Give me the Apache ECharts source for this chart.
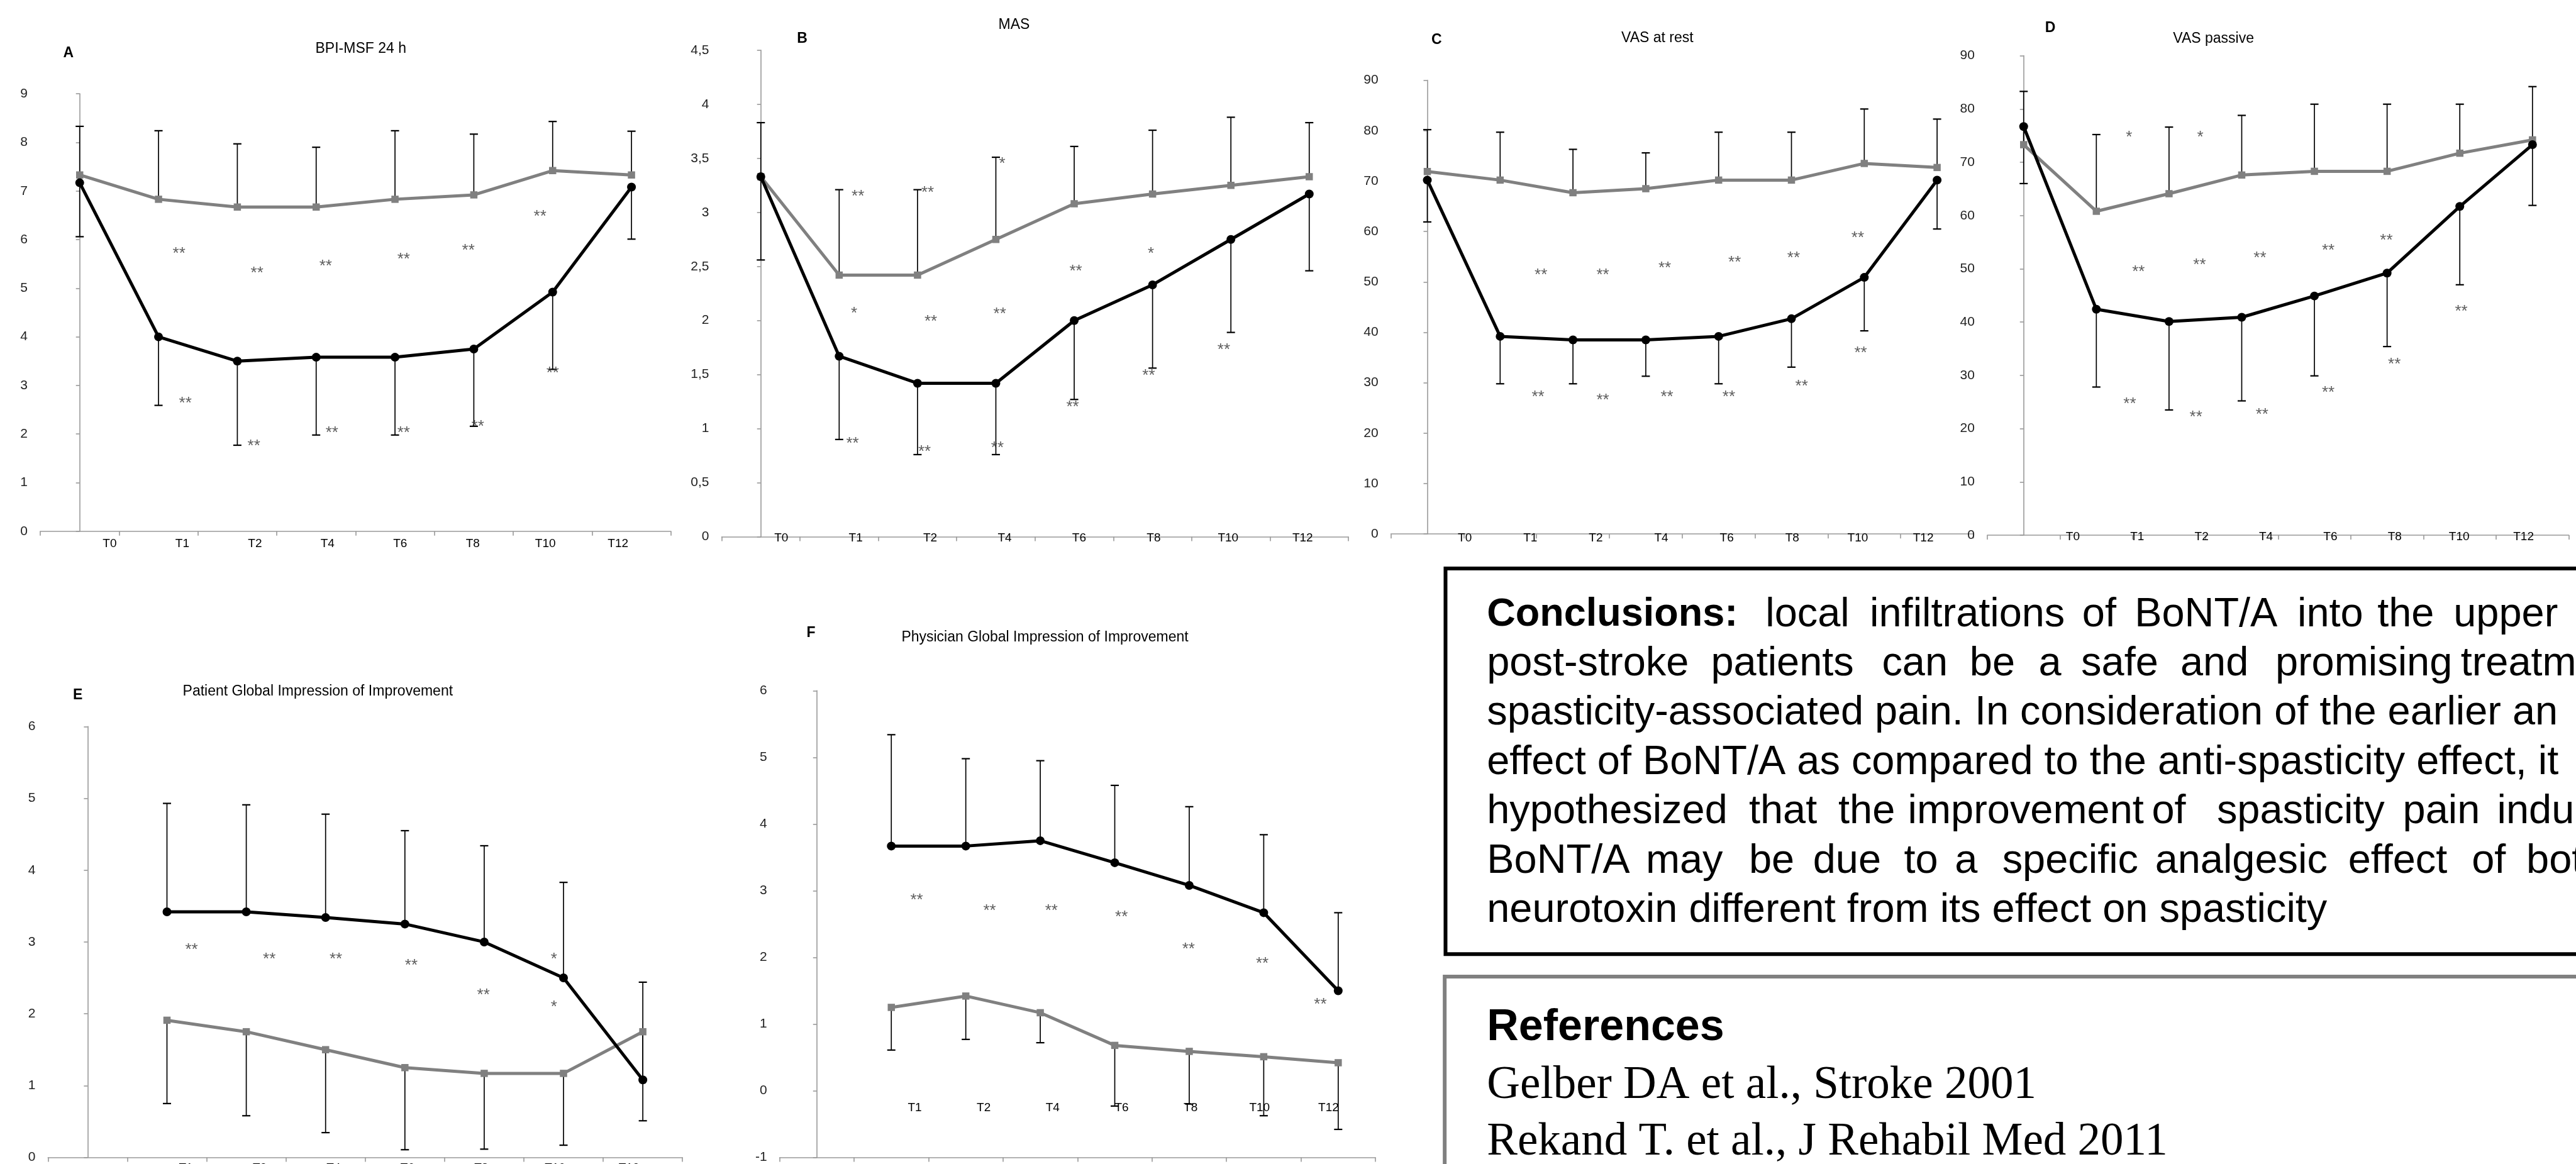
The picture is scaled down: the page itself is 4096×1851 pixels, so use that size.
<!DOCTYPE html>
<html><head><meta charset="utf-8">
<script src="https://cdn.jsdelivr.net/npm/echarts@6/dist/echarts.min.js"></script>
<style>html,body{margin:0;padding:0;background:#fff;overflow:hidden}#c{width:4096px;height:1851px}</style>
</head><body><div id="c"></div>
<script>
// ---------------- DATA ----------------
const catsFull = ['T0','T1','T2','T4','T6','T8','T10','T12'];
const catsNoT0 = ['','T1','T2','T4','T6','T8','T10','T12'];
const tickLabels8 = ['T0','T1','T2','T4','T6','T8','T10','T12'];
const tickLabels7 = ['T1','T2','T4','T6','T8','T10','T12'];

// A: BPI-MSF 24 h
const A_gray    = [7.33, 6.83, 6.67, 6.67, 6.83, 6.92, 7.42, 7.33];
const A_grayHi  = [8.33, 8.24, 7.97, 7.90, 8.24, 8.17, 8.43, 8.23];
const A_black   = [7.17, 4.00, 3.50, 3.58, 3.58, 3.75, 4.92, 7.08];
const A_blackLo = [6.06, 2.59, 1.77, 1.98, 1.98, 2.16, 3.33, 6.01];
const A_stars = [[1.26,5.78,'**'],[2.25,5.38,'**'],[3.12,5.52,'**'],[4.11,5.66,'**'],[4.93,5.85,'**'],[5.84,6.54,'**'],
                 [1.34,2.70,'**'],[2.21,1.83,'**'],[3.20,2.10,'**'],[4.11,2.10,'**'],[5.05,2.22,'**'],[6.00,3.32,'**']];
// B: MAS
const B_gray    = [3.33, 2.42, 2.42, 2.75, 3.08, 3.17, 3.25, 3.33];
const B_grayHi  = [3.83, 3.21, 3.21, 3.51, 3.61, 3.76, 3.88, 3.83];
const B_black   = [3.33, 1.67, 1.42, 1.42, 2.00, 2.33, 2.75, 3.17];
const B_blackLo = [2.56, 0.90, 0.76, 0.76, 1.27, 1.56, 1.89, 2.46];
const B_stars = [[1.24,3.18,'**'],[2.13,3.215,'**'],[3.08,3.48,'*'],[4.02,2.49,'**'],[4.98,2.65,'*'],
                 [1.19,2.10,'*'],[2.17,2.02,'**'],[3.05,2.09,'**'],[5.91,1.76,'**'],
                 [1.17,0.895,'**'],[2.09,0.82,'**'],[3.02,0.856,'**'],[3.98,1.23,'**'],[4.95,1.52,'**']];
// C: VAS at rest
const C_gray    = [71.9, 70.2, 67.7, 68.5, 70.2, 70.2, 73.5, 72.7];
const C_grayHi  = [80.2, 79.7, 76.3, 75.6, 79.7, 79.7, 84.3, 82.3];
const C_black   = [70.2, 39.2, 38.5, 38.5, 39.2, 42.7, 50.9, 70.2];
const C_blackLo = [61.9, 29.8, 29.8, 31.3, 29.8, 33.1, 40.3, 60.5];
const C_stars = [[1.56,52.0,'**'],[2.41,52.0,'**'],[3.26,53.4,'**'],[4.22,54.6,'**'],[5.03,55.4,'**'],[5.91,59.4,'**'],
                 [1.52,27.9,'**'],[2.41,27.2,'**'],[3.29,27.9,'**'],[4.14,27.9,'**'],[5.14,30.0,'**'],[5.95,36.6,'**']];
// D: VAS passive
const D_gray    = [73.3, 60.8, 64.1, 67.6, 68.3, 68.3, 71.7, 74.2];
const D_grayHi  = [83.3, 75.2, 76.6, 78.8, 80.9, 80.9, 80.9, 84.2];
const D_black   = [76.7, 42.4, 40.1, 40.9, 44.9, 49.2, 61.7, 73.3];
const D_blackLo = [66.0, 27.8, 23.5, 25.2, 29.9, 35.4, 47.0, 61.9];
const D_stars = [[1.45,75.3,'*'],[2.43,75.3,'*'],
                 [1.58,50.1,'**'],[2.42,51.4,'**'],[3.25,52.7,'**'],[4.19,54.1,'**'],[4.99,56.0,'**'],[6.02,42.6,'**'],
                 [1.46,25.3,'**'],[2.37,22.8,'**'],[3.28,23.3,'**'],[4.19,27.4,'**'],[5.10,32.7,'**']];
// E: Patient Global Impression of Improvement
const E_black   = [null, 3.42, 3.42, 3.34, 3.25, 3.00, 2.50, 1.08];
const E_blackHi = [null, 4.93, 4.91, 4.78, 4.55, 4.34, 3.83, 2.44];
const E_gray    = [null, 1.91, 1.75, 1.50, 1.25, 1.17, 1.17, 1.75];
const E_grayLo  = [null, 0.75, 0.58, 0.345, 0.107, 0.115, 0.17, 0.51];
const E_stars = [[1.31,2.94,'**'],[2.29,2.81,'**'],[3.13,2.81,'**'],[4.08,2.72,'**'],[4.99,2.31,'**'],[5.88,2.81,'*'],[5.88,2.14,'*']];
// F: Physician Global Impression of Improvement
const F_black   = [null, 3.67, 3.67, 3.75, 3.42, 3.08, 2.67, 1.50];
const F_blackHi = [null, 5.34, 4.98, 4.95, 4.58, 4.26, 3.84, 2.67];
const F_gray    = [null, 1.25, 1.42, 1.17, 0.68, 0.59, 0.51, 0.42];
const F_grayLo  = [null, 0.61, 0.77, 0.72, -0.23, -0.20, -0.375, -0.58];
const F_stars = [[1.34,2.91,'**'],[2.32,2.75,'**'],[3.15,2.75,'**'],[4.09,2.66,'**'],[4.99,2.18,'**'],[5.98,1.96,'**'],[6.76,1.35,'**']];

// ---------------- LAYOUT (reference pixel coords, scaled by S) ----------------
const S = 4096 / 4669;
const FONT = "'Liberation Sans', Arial, Helvetica, sans-serif";
const SERIF = "'Liberation Serif', 'Times New Roman', serif";
const GRAY = '#808080', AX = '#999999';

const panels = [
  {title:'BPI-MSF 24 h', letter:'A', cats:catsFull, labels:tickLabels8, gray:A_gray, grayE:A_grayHi, black:A_black, blackE:A_blackLo, stars:A_stars,
   yMin:0, yMax:9, yInt:1, grid:[73,170,1216,963], lab:[133,986,1053], t:[654,89], l:[124,96]},
  {title:'MAS', letter:'B', cats:catsFull, labels:tickLabels8, gray:B_gray, grayE:B_grayHi, black:B_black, blackE:B_blackLo, stars:B_stars,
   yMin:0, yMax:4.5, yInt:0.5, comma:true, grid:[1308,91,2444,973], lab:[1348.5,975,1080], t:[1838,45], l:[1454,70]},
  {title:'VAS at rest', letter:'C', cats:catsFull, labels:tickLabels8, gray:C_gray, grayE:C_grayHi, black:C_black, blackE:C_blackLo, stars:C_stars,
   yMin:0, yMax:90, yInt:10, grid:[2521,145.5,3577,968], lab:[2595.6,976,949.7], t:[3004,69], l:[2604,72]},
  {title:'VAS passive', letter:'D', cats:catsFull, labels:tickLabels8, gray:D_gray, grayE:D_grayHi, black:D_black, blackE:D_blackLo, stars:D_stars,
   yMin:0, yMax:90, yInt:10, grid:[3602,101,4656,970], lab:[3698.6,973,933.7], t:[4012,70], l:[3716,51]},
  {title:'Patient Global Impression of Improvement', letter:'E', cats:catsNoT0, labels:tickLabels7, gray:E_gray, grayE:E_grayLo, black:E_black, blackE:E_blackHi, stars:E_stars,
   yMin:0, yMax:6, yInt:1, grid:[87,1317,1237,2100], lab:[270,2118,937], t:[576,1253], l:[141,1260]},
  {title:'Physician Global Impression of Improvement', letter:'F', cats:catsNoT0, labels:tickLabels7, gray:F_gray, grayE:F_grayLo, black:F_black, blackE:F_blackHi, stars:F_stars,
   yMin:-1, yMax:6, yInt:1, grid:[1413,1252,2493,2098], lab:[1595.5,2008,875], t:[1894,1156], l:[1470,1148]}
];

const conclusionLines = [
  {words:['Conclusions:','local','infiltrations','of','BoNT/A','into','the','upper'], xs:[2695,3200,3389,3774,3869,4164,4309,4447]},
  {words:['post-stroke','patients','can','be','a','safe','and','promising','treatm'], xs:[2695,3101,3411,3570,3695,3772,3952,4124,4460]},
  {words:['spasticity-associated pain. In consideration of the earlier an'], xs:[2695]},
  {words:['effect of BoNT/A as compared to the anti-spasticity effect, it'], xs:[2695]},
  {words:['hypothesized','that','the','improvement','of','spasticity','pain','indu'], xs:[2695,3170,3332,3458,3900,4018,4355,4526]},
  {words:['BoNT/A','may','be','due','to','a','specific','analgesic','effect','of','bot'], xs:[2695,2983,3170,3286,3451,3543,3629,3906,4256,4480,4579]},
  {words:['neurotoxin different from its effect on spasticity'], xs:[2695]}
];
const referenceLines = ['Gelber DA et al., Stroke 2001', 'Rekand T. et al., J Rehabil Med 2011'];

// ---------------- BUILD ----------------
function errRender(params, api) {
  const x = api.value(0), a = api.value(1), b = api.value(2);
  const p1 = api.coord([x, a]), p2 = api.coord([x, b]);
  return {type:'group', children:[
    {type:'line', shape:{x1:p1[0], y1:p1[1], x2:p2[0], y2:p2[1]}, style:{stroke:'#000', lineWidth:1.7}},
    {type:'line', shape:{x1:p2[0]-6.5, y1:p2[1], x2:p2[0]+6.5, y2:p2[1]}, style:{stroke:'#000', lineWidth:2.2}}
  ]};
}

const grids = [], xAxes = [], yAxes = [], series = [], graphics = [];

panels.forEach(p => {
  const g = p.grid;
  const gMain = grids.length;
  grids.push({left:g[0]*S, top:g[1]*S, width:(g[2]-g[0])*S, height:(g[3]-g[1])*S});
  const gLab = grids.length;
  grids.push({left:p.lab[0]*S, top:p.lab[1]*S - 1, width:p.lab[2]*S, height:1});

  const xCat = xAxes.length;
  xAxes.push({type:'category', gridIndex:gMain, position:'bottom', data:p.cats, boundaryGap:true,
    axisLine:{show:true, onZero:false, lineStyle:{color:AX, width:1.6}},
    axisTick:{show:true, length:7, lineStyle:{color:AX, width:1.6}},
    axisLabel:{show:false}, splitLine:{show:false}});
  const xVal = xAxes.length;
  xAxes.push({type:'value', gridIndex:gMain, min:-0.5, max:7.5, show:false});
  xAxes.push({type:'category', gridIndex:gLab, position:'bottom', data:p.labels, boundaryGap:true,
    axisLine:{show:false}, axisTick:{show:false}, splitLine:{show:false},
    axisLabel:{show:true, interval:0, margin:0, verticalAlign:'middle', fontSize:19, fontFamily:FONT, color:'#000'}});

  const yMain = yAxes.length;
  yAxes.push({type:'value', gridIndex:gMain, min:p.yMin, max:p.yMax, interval:p.yInt,
    axisLine:{show:true, lineStyle:{color:AX, width:1.6}},
    axisTick:{show:true, length:6, lineStyle:{color:AX, width:1.6}},
    axisLabel:{margin:20, fontSize:21, fontFamily:FONT, color:'#222',
      formatter: v => p.comma ? String(v).replace('.', ',') : String(v)},
    splitLine:{show:false}});
  yAxes.push({type:'value', gridIndex:gLab, show:false});

  const errData = (vals, ends) => vals.map((v,k) => v == null ? null : [k, v, ends[k]]).filter(Boolean);
  series.push({type:'custom', xAxisIndex:xCat, yAxisIndex:yMain, renderItem:errRender, encode:{x:0, y:[1,2]},
    data:errData(p.gray, p.grayE), z:2, silent:true});
  series.push({type:'custom', xAxisIndex:xCat, yAxisIndex:yMain, renderItem:errRender, encode:{x:0, y:[1,2]},
    data:errData(p.black, p.blackE), z:2, silent:true});
  series.push({type:'line', xAxisIndex:xCat, yAxisIndex:yMain, data:p.gray, symbol:'rect', symbolSize:11.5,
    showAllSymbol:true, itemStyle:{color:GRAY}, lineStyle:{color:GRAY, width:5}, z:3, silent:true});
  series.push({type:'line', xAxisIndex:xCat, yAxisIndex:yMain, data:p.black, symbol:'circle', symbolSize:14,
    showAllSymbol:true, itemStyle:{color:'#000'}, lineStyle:{color:'#000', width:5}, z:4, silent:true});
  series.push({type:'scatter', xAxisIndex:xVal, yAxisIndex:yMain, symbolSize:0.1, itemStyle:{color:'rgba(0,0,0,0)'},
    data:p.stars.map(s => ({value:[s[0], s[1]], name:s[2]})),
    label:{show:true, position:'inside', formatter:'{b}', fontSize:26, fontFamily:FONT, color:'#333', offset:[0,6]},
    z:5, silent:true});

  graphics.push({type:'text', x:p.t[0]*S, y:p.t[1]*S, style:{text:p.title, fontSize:23, fontFamily:FONT, fill:'#000', align:'center', verticalAlign:'middle'}});
  graphics.push({type:'text', x:p.l[0]*S, y:p.l[1]*S, style:{text:p.letter, fontSize:23, fontWeight:'bold', fontFamily:FONT, fill:'#000', align:'center', verticalAlign:'middle'}});
});

// Conclusions box
graphics.push({type:'rect', shape:{x:2620*S, y:1030.5*S, width:2200, height:(1729.5-1030.5)*S}, style:{fill:null, stroke:'#000', lineWidth:6}});
const FS = 74*S, LINE0 = 1140.6, LSTEP = 89.3;
conclusionLines.forEach((ln, i) => {
  const base = (LINE0 + i*LSTEP)*S;
  ln.words.forEach((w, k) => {
    const bold = (i === 0 && k === 0);
    const fs = bold ? 63 : FS;
    graphics.push({type:'text', x:ln.xs[k]*S, y:base - 0.35*FS,
      style:{text:w, fontSize:fs, fontWeight:bold?'bold':'normal', fontFamily:FONT, fill:'#000', align:'left', verticalAlign:'middle'}});
  });
});
// References box
graphics.push({type:'rect', shape:{x:2618.5*S, y:1770.3*S, width:2200, height:600}, style:{fill:null, stroke:GRAY, lineWidth:6}});
graphics.push({type:'text', x:2695*S, y:1891.7*S - 0.35*70, style:{text:'References', fontSize:70, fontWeight:'bold', fontFamily:FONT, fill:'#000', align:'left', verticalAlign:'middle'}});
referenceLines.forEach((t, i) => {
  const base = (i === 0 ? 1993.3 : 2096) * S;
  graphics.push({type:'text', x:2695*S, y:base - 0.3*73, style:{text:t, fontSize:73, fontFamily:SERIF, fill:'#000', align:'left', verticalAlign:'middle'}});
});

const chart = echarts.init(document.getElementById('c'), null, {renderer:'canvas'});
chart.setOption({
  animation:false, backgroundColor:'#fff',
  grid:grids, xAxis:xAxes, yAxis:yAxes, series:series, graphic:{elements:graphics}
});
</script></body></html>
